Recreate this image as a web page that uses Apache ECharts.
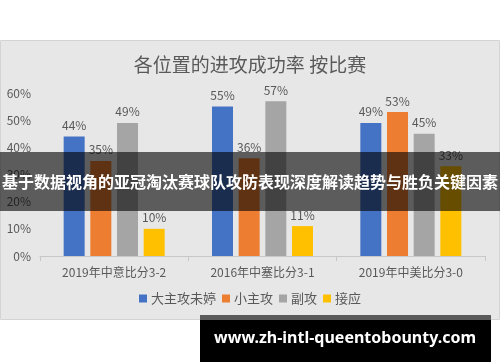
<!DOCTYPE html>
<html><head><meta charset="utf-8">
<script src="https://cdn.jsdelivr.net/npm/echarts@6/dist/echarts.min.js"></script>
<style>html,body{margin:0;padding:0;background:#fff}#c{width:500px;height:362px}</style>
</head><body><div id="c"></div>
<script>
const categories = ['2019年中意比分3-2', '2016年中塞比分3-1', '2019年中美比分3-0'];
const seriesNames = ['大主攻未婷', '小主攻', '副攻', '接应'];
const mainAttack = [44, 55, 49];
const smallAttack = [35, 36, 53];
const middle = [49, 57, 45];
const opposite = [10, 11, 33];
const yTicks = [0, 10, 20, 30, 40, 50, 60];
const colors = ['#4472C4', '#ED7D31', '#A5A5A5', '#FFC000'];
const font = '"Noto Sans CJK SC", "Noto Sans", sans-serif';

const chart = echarts.init(document.getElementById('c'));
const mk = (name, data, i) => ({
  name, type: 'bar', data, barWidth: 21, barGap: '27%',
  itemStyle: { color: colors[i] },
  label: { show: true, position: 'top', distance: 5, formatter: '{c}%', color: '#595959', fontSize: 12, fontFamily: font },
  z: 2
});
chart.setOption({
  animation: false,
  backgroundColor: '#ffffff',
  title: {
    text: '各位置的进攻成功率 按比赛', left: 'center', top: 50,
    textStyle: { color: '#595959', fontSize: 19, fontWeight: 'normal', fontFamily: font }
  },
  legend: {
    data: seriesNames, bottom: 52, left: 'center', itemWidth: 8, itemHeight: 8, itemGap: 6,
    icon: 'rect', textStyle: { color: '#595959', fontSize: 13, fontFamily: font, padding: [0, 0, 0, -1] }
  },
  grid: { left: 40, right: 15, top: 93, bottom: 106 },
  xAxis: {
    type: 'category', data: categories,
    axisLine: { lineStyle: { color: '#c8c8c8' } },
    axisTick: { show: true, lineStyle: { color: '#c8c8c8' } },
    axisLabel: { color: '#595959', fontSize: 12, fontFamily: font, margin: 10 }
  },
  yAxis: {
    type: 'value', min: yTicks[0], max: yTicks[yTicks.length - 1], interval: 10,
    axisLabel: { formatter: '{value}%', color: '#595959', fontSize: 12, fontFamily: font, margin: 9 },
    splitLine: { show: false }, axisLine: { show: false }, axisTick: { show: false }
  },
  series: [mk(seriesNames[0], mainAttack, 0), mk(seriesNames[1], smallAttack, 1), mk(seriesNames[2], middle, 2), mk(seriesNames[3], opposite, 3)],
  graphic: [
    { type: 'rect', z: -10, shape: { x: 0.5, y: 40.5, width: 499, height: 279 }, style: { fill: '#e7e7e7', stroke: '#d4d4d4', lineWidth: 1 }, silent: true },
    { type: 'rect', z: 100, shape: { x: 0, y: 152, width: 500, height: 59 }, style: { fill: 'rgba(0,0,0,0.6)' }, silent: true },
    { type: 'text', z: 101, x: 250, y: 182, style: { text: '基于数据视角的亚冠淘汰赛球队攻防表现深度解读趋势与胜负关键因素', fill: '#ffffff', font: 'bold 16px ' + font, align: 'center', verticalAlign: 'middle' }, silent: true },
    { type: 'rect', z: 100, shape: { x: 200, y: 315, width: 291, height: 5 }, style: { fill: '#5a5a5a' }, silent: true },
    { type: 'rect', z: 100, shape: { x: 200, y: 320, width: 291, height: 42 }, style: { fill: '#000000' }, silent: true },
    { type: 'text', z: 101, x: 345, y: 338, style: { text: 'www.zh-intl-queentobounty.com', fill: '#ffffff', font: 'bold 16px "Noto Sans", sans-serif', align: 'center', verticalAlign: 'middle' }, silent: true }
  ]
});
</script></body></html>
